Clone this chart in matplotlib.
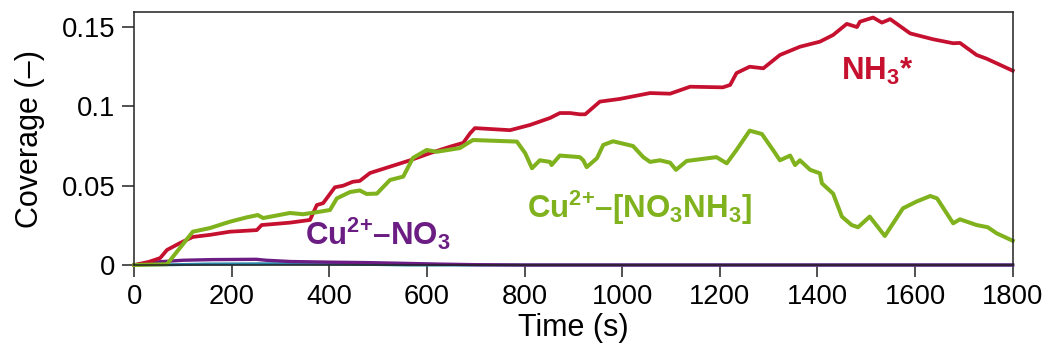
import matplotlib
matplotlib.use('Agg')
import matplotlib.pyplot as plt

plt.rcParams['font.family'] = ['Liberation Sans', 'DejaVu Sans']
plt.rcParams['mathtext.fontset'] = 'custom'
plt.rcParams['mathtext.default'] = 'regular'

# NH3* coverage
nh3_t = [0, 30, 53, 67, 94, 120, 155, 196, 251, 261, 319, 360, 374, 387, 411, 428,
         448, 462, 483, 524, 565, 606, 647, 674, 688, 698, 770, 811, 852, 872, 893,
         913, 924, 954, 995, 1057, 1098, 1139, 1206, 1221, 1234, 1261, 1289, 1323,
         1364, 1405, 1432, 1460, 1481, 1487, 1514, 1532, 1549, 1590, 1637, 1678,
         1692, 1726, 1747, 1800]
nh3_v = [0, 0.002, 0.0044, 0.0095, 0.0139, 0.0177, 0.019, 0.021, 0.022, 0.0252,
         0.0267, 0.0284, 0.0378, 0.039, 0.049, 0.050, 0.0525, 0.053, 0.058, 0.062,
         0.066, 0.0705, 0.0746, 0.077, 0.083, 0.0863, 0.085, 0.0883, 0.0927,
         0.0958, 0.0958, 0.095, 0.095, 0.103, 0.1047, 0.1084, 0.108, 0.1124, 0.112,
         0.1135, 0.121, 0.125, 0.124, 0.1324, 0.1376, 0.1408, 0.145, 0.152, 0.150,
         0.1534, 0.156, 0.1528, 0.155, 0.146, 0.1423, 0.1398, 0.140, 0.1324,
         0.130, 0.1225]

# Cu2+-[NO3NH3] coverage
cunn_t = [0, 67, 120, 155, 196, 230, 253, 264, 319, 346, 380, 401, 415, 442, 462,
          476, 497, 524, 551, 571, 599, 620, 667, 694, 784, 801, 815, 831, 852, 855,
          872, 913, 920, 927, 948, 961, 981, 1022, 1043, 1057, 1077, 1098, 1110,
          1132, 1193, 1214, 1234, 1261, 1286, 1310, 1323, 1344, 1354, 1364, 1385,
          1405, 1409, 1432, 1450, 1470, 1483, 1507, 1538, 1575, 1603, 1631, 1645,
          1678, 1692, 1726, 1749, 1767, 1800]
cunn_v = [0, 0.0005, 0.021, 0.0233, 0.0273, 0.030, 0.0315, 0.0296, 0.0328, 0.032,
          0.0336, 0.0347, 0.042, 0.046, 0.047, 0.0448, 0.045, 0.0536, 0.0557,
          0.0675, 0.0725, 0.0714, 0.0737, 0.0788, 0.0778, 0.0705, 0.061, 0.066,
          0.065, 0.063, 0.069, 0.068, 0.066, 0.0617, 0.0673, 0.0757, 0.078, 0.075,
          0.068, 0.065, 0.066, 0.0645, 0.060, 0.0656, 0.068, 0.0641, 0.0725, 0.0847,
          0.0826, 0.072, 0.066, 0.069, 0.063, 0.066, 0.060, 0.0578, 0.0515, 0.045,
          0.0305, 0.0252, 0.0238, 0.0305, 0.0183, 0.0357, 0.040, 0.0435, 0.042,
          0.0263, 0.0288, 0.0252, 0.0238, 0.020, 0.0153]

# Cu2+-NO3 coverage
cuno_t = [0, 40, 100, 160, 250, 270, 320, 400, 480, 560, 620, 700, 800, 1800]
cuno_v = [0, 0.0018, 0.003, 0.0034, 0.0036, 0.003, 0.0022, 0.0018, 0.0015, 0.001,
          0.0006, 0.0002, 0, 0]

# minor species near zero
minor_t = [0, 80, 150, 300, 400, 480, 560, 1800]
minor_v = [0, 0.0002, 0.0006, 0.0008, 0.0007, 0.0004, 0, 0]

y_ticks = [0, 0.05, 0.1, 0.15]
y_labels = ['0', '0.05', '0.1', '0.15']
x_ticks = [0, 200, 400, 600, 800, 1000, 1200, 1400, 1600, 1800]

red = '#C5112F'
green = '#80B21E'
purple = '#6B1D84'
teal = '#2A86A8'

fig = plt.figure(figsize=(10.55, 3.56), dpi=100)
ax = fig.add_axes([0.1273, 0.2556, 0.8326, 0.7107])

ax.plot(minor_t, minor_v, color=teal, lw=2.2, clip_on=False)
ax.plot(cuno_t, cuno_v, color=purple, lw=2.4, clip_on=False)
ax.plot(nh3_t, nh3_v, color=red, lw=2.7, clip_on=False)
ax.plot(cunn_t, cunn_v, color=green, lw=2.9, clip_on=False)

ax.set_xlim(0, 1800)
ax.set_ylim(0, 0.1595)
ax.set_xticks(x_ticks)
ax.set_yticks(y_ticks)
ax.set_yticklabels(y_labels)
ax.tick_params(direction='out', length=8.5, width=1.1, labelsize=19.7, color='#222222', pad=5)
for sp in ax.spines.values():
    sp.set_linewidth(1.1)
    sp.set_color('#222222')

ax.set_xlabel('Time (s)', fontsize=22, labelpad=2)
ax.set_ylabel('Coverage (–)', fontsize=22, labelpad=12)

ax.text(1448, 0.1165, r'NH$_3$*', color=red, fontsize=22.5, fontweight='bold')
ax.text(805, 0.0295, r'Cu$^{2{+}}$–[NO$_3$NH$_3$]', color=green, fontsize=22.5, fontweight='bold')
ax.text(349, 0.0126, r'Cu$^{2{+}}$–NO$_3$', color=purple, fontsize=22.5, fontweight='bold')

fig.savefig('out.png', dpi=100)
